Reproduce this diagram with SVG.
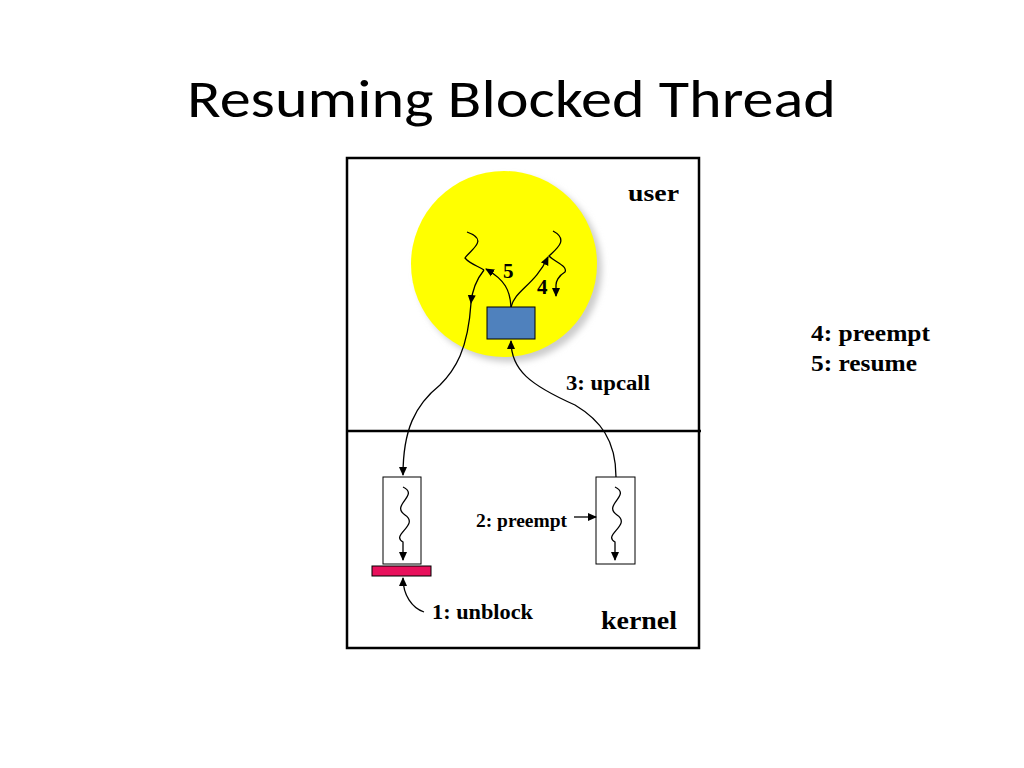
<svg xmlns="http://www.w3.org/2000/svg" width="1024" height="768" viewBox="0 0 1024 768">
<defs>
<marker id="ah" markerWidth="10" markerHeight="10" refX="8" refY="5" orient="auto" markerUnits="userSpaceOnUse"><path d="M0,1 L9,5 L0,9 z" fill="#000"/></marker>
<filter id="sh"><feGaussianBlur stdDeviation="3"/></filter>
</defs>
<style>
.t{font-family:"Liberation Serif",serif;font-weight:bold;fill:#000}
.c{fill:none;stroke:#000;stroke-width:1.3}
.a{fill:none;stroke:#000;stroke-width:1.3;marker-end:url(#ah)}
</style>
<rect width="1024" height="768" fill="#fff"/>
<text x="187" y="117" font-family="Carlito,'Liberation Sans',sans-serif" font-size="54" textLength="649" lengthAdjust="spacingAndGlyphs" fill="#000">Resuming Blocked Thread</text>
<g id="frame">
<rect x="347" y="158" width="352" height="490" fill="none" stroke="#000" stroke-width="2.5"/>
<line x1="347" y1="431" x2="701" y2="431" stroke="#000" stroke-width="2.5"/>
</g>
<g id="process">
<circle cx="509" cy="269" r="93" fill="#ccc" filter="url(#sh)"/>
<circle cx="504" cy="264" r="93" fill="#ffff00"/>
</g>
<g id="upcall-handler"><rect x="487" y="307" width="48" height="32" fill="#4f81bd" stroke="#000" stroke-width="1"/></g>
<g id="kthread-left">
<rect x="383" y="477" width="38" height="87" fill="#fff" stroke="#000" stroke-width="1"/>
<path class="a" d="M403,487 C420,495 390,505 405,515 C420,525 390,535 403,542 L403,560"/>
</g>
<g id="blocked-bar"><rect x="372" y="566" width="59" height="10" fill="#e8115c" stroke="#000" stroke-width="1"/></g>
<g id="kthread-right">
<rect x="596" y="477" width="39" height="87" fill="#fff" stroke="#000" stroke-width="1"/>
<path class="a" d="M615,487 C632,495 602,505 617,515 C632,525 602,535 615,542 L615,560"/>
</g>
<g id="connectors">
<path class="c" d="M467,232 C490,240 470,250 465,258 C470,264 478,266 484,270"/>
<path class="a" d="M484,270 C476,280 472,292 471,303"/>
<path class="a" d="M471,303 C468,350 455,370 440,385 C415,405 403,430 403,475"/>
<path class="a" d="M511,307 C510,290 505,280 486,269"/>
<path class="c" d="M553,231 C570,240 555,250 549,256 C555,262 568,266 565,272 C558,276 556,282 556,285"/>
<path class="a" d="M556,285 L556,296"/>
<path class="a" d="M511,307 C515,290 535,285 548,257"/>
<path class="a" d="M616,477 C616,440 600,420 575,405 C530,385 511,370 511,341"/>
<path class="a" d="M574,517 L596,517"/>
<path class="a" d="M424,612 C412,608 403,595 403,578"/>
</g>
<g id="labels">
<text class="t" x="628" y="201" font-size="24" textLength="51" lengthAdjust="spacingAndGlyphs">user</text>
<text class="t" x="601" y="629" font-size="26" textLength="76" lengthAdjust="spacingAndGlyphs">kernel</text>
<text class="t" x="566" y="390" font-size="20" textLength="84" lengthAdjust="spacingAndGlyphs">3: upcall</text>
<text class="t" x="476" y="527" font-size="18" textLength="91" lengthAdjust="spacingAndGlyphs">2: preempt</text>
<text class="t" x="432" y="619" font-size="21" textLength="101" lengthAdjust="spacingAndGlyphs">1: unblock</text>
<text class="t" x="503" y="278" font-size="21">5</text>
<text class="t" x="537" y="294" font-size="21">4</text>
<text class="t" x="811" y="341" font-size="24" textLength="119" lengthAdjust="spacingAndGlyphs">4: preempt</text>
<text class="t" x="811" y="371" font-size="24" textLength="106" lengthAdjust="spacingAndGlyphs">5: resume</text>
</g>
</svg>
